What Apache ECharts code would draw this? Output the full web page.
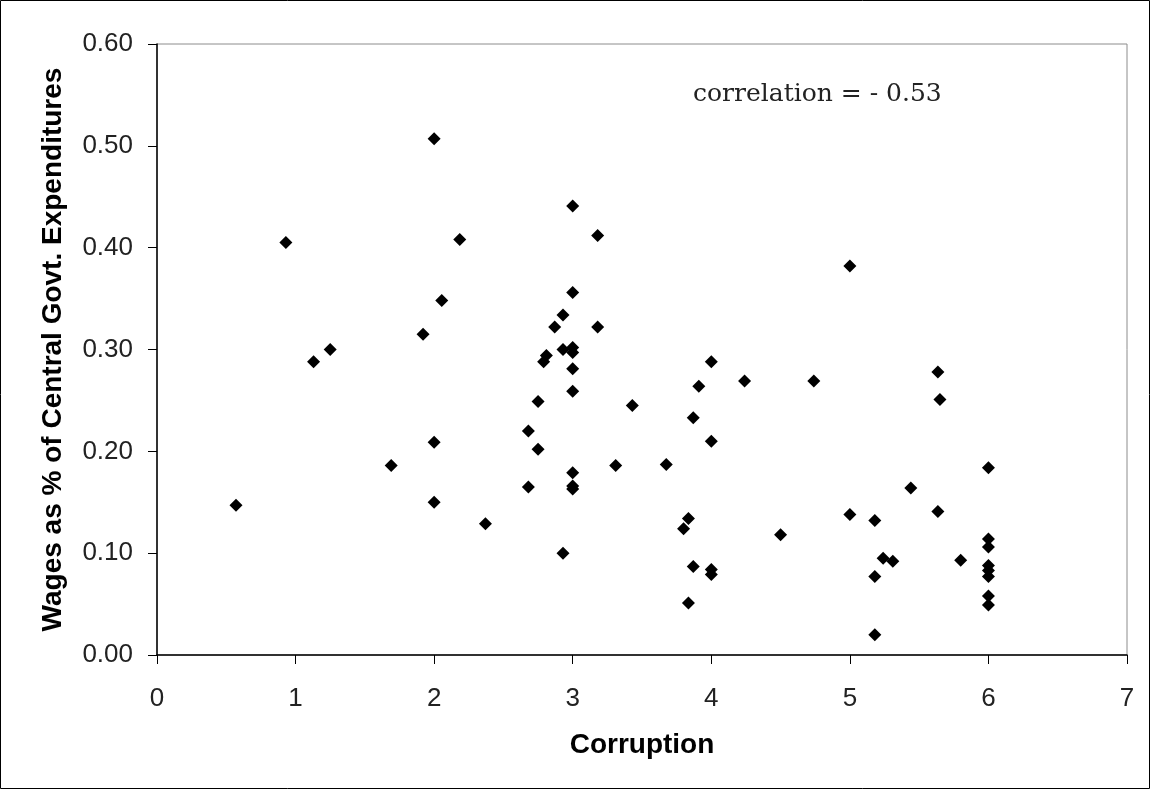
<!DOCTYPE html>
<html style="height: 100%; width: 100%;">
<head>
    <meta charset="utf-8">
    <title>Wages vs Corruption</title>
    <script src="https://cdn.jsdelivr.net/npm/echarts@6/dist/echarts.min.js"></script>
    <style>
        body, html {
            margin: 0;
            padding: 0;
            width: 100%;
            height: 100%;
            background: #fff;
        }
        #main {
            width: 1151px;
            height: 790px;
        }
    </style>
</head>
<body>
<div id="main"></div>
<script type="text/javascript">
    // values
    var corruption = [
        0.57, 0.93, 1.13, 1.25, 1.69, 1.92, 2.0, 2.0, 2.0, 2.055, 2.185, 2.37,
        2.68, 2.68, 2.75, 2.75, 2.79, 2.81, 2.87, 2.93, 2.93, 2.93,
        3.0, 3.0, 3.0, 3.0, 3.0, 3.0, 3.0, 3.0, 3.0,
        3.18, 3.18, 3.31, 3.43, 3.675, 3.80, 3.835, 3.835, 3.87, 3.87, 3.91,
        4.0, 4.0, 4.0, 4.0, 4.24, 4.5, 4.74, 5.0, 5.0,
        5.18, 5.18, 5.18, 5.24, 5.31, 5.44, 5.635, 5.65, 5.635, 5.80,
        6.0, 6.0, 6.0, 6.0, 6.0, 6.0, 6.0, 6.0
    ];
    var wages = [
        0.147, 0.405, 0.288, 0.300, 0.186, 0.315, 0.507, 0.209, 0.150, 0.348, 0.408, 0.129,
        0.220, 0.165, 0.249, 0.202, 0.288, 0.294, 0.322, 0.334, 0.300, 0.100,
        0.441, 0.356, 0.302, 0.297, 0.281, 0.259, 0.179, 0.166, 0.163,
        0.412, 0.322, 0.186, 0.245, 0.187, 0.124, 0.134, 0.051, 0.233, 0.087, 0.264,
        0.288, 0.210, 0.084, 0.079, 0.269, 0.118, 0.269, 0.382, 0.138,
        0.132, 0.077, 0.020, 0.095, 0.092, 0.164, 0.278, 0.251, 0.141, 0.093,
        0.184, 0.114, 0.106, 0.088, 0.083, 0.077, 0.058, 0.049
    ];
    var xTitle = 'Corruption';
    var yTitle = 'Wages as % of Central Govt. Expenditures';
    var note = 'correlation = - 0.53';

    var points = corruption.map(function (c, i) { return [c, wages[i]]; });

    var chart = echarts.init(document.getElementById('main'));

    var option = {
        animation: false,
        backgroundColor: '#fff',
        grid: {
            left: 157, right: 24, top: 44, bottom: 135,
            show: true,
            borderColor: '#8c8c8c',
            borderWidth: 1
        },
        xAxis: {
            type: 'value',
            min: 0, max: 7, interval: 1,
            name: xTitle,
            nameLocation: 'middle',
            nameGap: 76,
            nameTextStyle: { fontFamily: 'Liberation Sans', fontWeight: 'bold', fontSize: 28, color: '#000' },
            axisLine: { lineStyle: { color: '#000', width: 1.5 } },
            axisTick: { length: 9, lineStyle: { color: '#000' } },
            axisLabel: { margin: 31, fontFamily: 'Liberation Sans', fontSize: 26, color: '#222' },
            splitLine: { show: false }
        },
        yAxis: {
            type: 'value',
            min: 0, max: 0.6, interval: 0.1,
            name: yTitle,
            nameLocation: 'middle',
            nameGap: 90,
            nameTextStyle: { fontFamily: 'Liberation Sans', fontWeight: 'bold', fontSize: 28, color: '#000' },
            axisLine: { show: true, lineStyle: { color: '#000', width: 1.5 } },
            axisTick: { show: true, length: 9, lineStyle: { color: '#000' } },
            axisLabel: {
                margin: 24, fontFamily: 'Liberation Sans', fontSize: 26, color: '#222',
                formatter: function (v) { return v.toFixed(2); }
            },
            splitLine: { show: false }
        },
        graphic: [
            {
                type: 'rect',
                shape: { x: 0.5, y: 0.5, width: 1149, height: 788 },
                style: { fill: null, stroke: '#000', lineWidth: 1 },
                silent: true
            },
            {
                type: 'text',
                left: 693, top: 82,
                style: { text: note, font: '25px "DejaVu Serif"', fill: '#222' }
            }
        ],
        series: [
            {
                type: 'scatter',
                data: points,
                symbol: 'diamond',
                symbolSize: 13,
                itemStyle: { color: '#000', opacity: 1 }
            }
        ]
    };

    chart.setOption(option);
</script>
</body>
</html>
